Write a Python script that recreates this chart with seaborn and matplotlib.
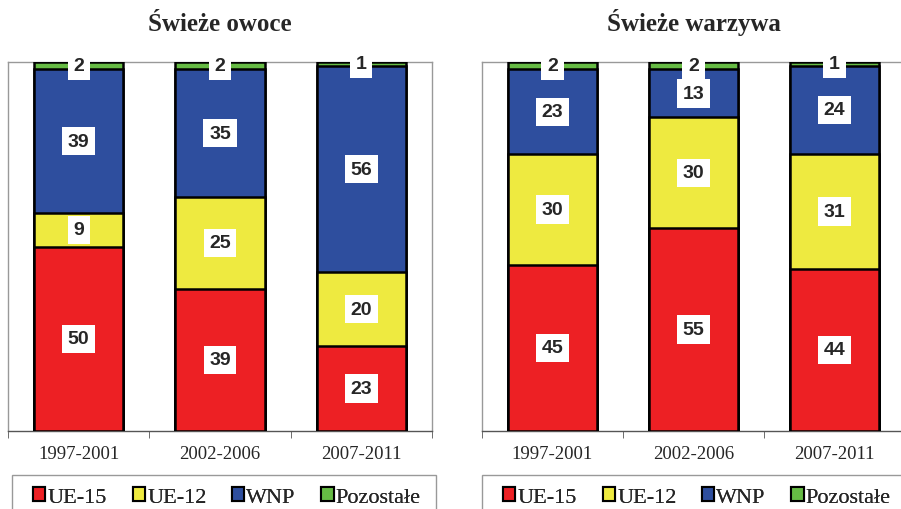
import matplotlib
matplotlib.use("Agg")
import matplotlib.pyplot as plt
import seaborn as sns
import numpy as np
import pandas as pd

periods = ["1997-2001", "2002-2006", "2007-2011"]
groups = ["UE-15", "UE-12", "WNP", "Pozostałe"]
colors = ["#ED2024", "#EEEA40", "#2E4E9E", "#66BB44"]

# shares (%) per period, bottom to top
owoce = {
    "UE-15": [50, 39, 23],
    "UE-12": [9, 25, 20],
    "WNP": [39, 35, 56],
    "Pozostałe": [2, 2, 1],
}
warzywa = {
    "UE-15": [45, 55, 44],
    "UE-12": [30, 30, 31],
    "WNP": [23, 13, 24],
    "Pozostałe": [2, 2, 1],
}

sns.set_style("white")
plt.rcParams["font.family"] = ["Liberation Serif", "DejaVu Serif"]

fig = plt.figure(figsize=(9.01, 5.10), dpi=100)
W, H = 901, 510


def draw_panel(ax, data, title):
    vals = np.array([data[g] for g in groups], dtype=float)
    # 100% stacked columns (rounded shares may not add up to exactly 100)
    cum = np.cumsum(vals, axis=0)
    cum = cum / cum[-1] * 100
    starts = np.vstack([np.zeros(len(periods)), cum[:-1]])
    # draw cumulative totals from the top segment down so edges stack up
    for i in range(len(groups) - 1, -1, -1):
        df = pd.DataFrame({"okres": periods, "val": cum[i]})
        sns.barplot(data=df, x="okres", y="val", color=colors[i], ax=ax,
                    width=0.63, edgecolor="black", linewidth=1.8,
                    saturation=1, zorder=2 + (len(groups) - i))
    for i in range(len(groups)):
        for j in range(len(periods)):
            mid = (starts[i, j] + cum[i, j]) / 2
            ax.text(j, mid, f"{int(vals[i, j])}", ha="center", va="center",
                    fontsize=14, fontweight="bold",
                    family=["Liberation Sans", "DejaVu Sans"], zorder=20,
                    bbox=dict(facecolor="white", edgecolor="none", pad=4))
    ax.set_xlim(-0.5, 2.5)
    ax.set_ylim(0, 100)
    ax.set_yticks([])
    ax.set_xlabel("")
    ax.set_ylabel("")
    ax.set_title(title, fontsize=18, fontweight="bold", pad=23)
    for s in ["left", "top", "right"]:
        ax.spines[s].set_color("#999999")
        ax.spines[s].set_linewidth(1)
    ax.spines["bottom"].set_color("#555555")
    ax.spines["bottom"].set_linewidth(1)
    ax.set_xticks([0, 1, 2])
    ax.set_xticklabels(periods, fontsize=13.5)
    ax.tick_params(axis="x", which="major", length=0, pad=10)
    ax.set_xticks([-0.5, 0.5, 1.5, 2.5], minor=True)
    ax.tick_params(axis="x", which="minor", length=5, color="#555555",
                   direction="out", bottom=True)


ax1 = fig.add_axes([8 / W, (H - 432) / H, 424 / W, 369 / H])
ax2 = fig.add_axes([482 / W, (H - 432) / H, 423 / W, 369 / H])
draw_panel(ax1, owoce, "Świeże owoce")
draw_panel(ax2, warzywa, "Świeże warzywa")

handles = [plt.Rectangle((0, 0), 1, 1, facecolor=c, edgecolor="black",
                         linewidth=1.5) for c in colors]
for x0, x1 in [(12, 436), (482, 915)]:
    frame = plt.Rectangle((x0 / W, -0.05), (x1 - x0) / W, 0.05 + (H - 476) / H,
                          transform=fig.transFigure, facecolor="white",
                          edgecolor="#999999", linewidth=1)
    fig.add_artist(frame)
    leg = fig.legend(handles, groups, loc="center", ncol=4,
                     bbox_to_anchor=((x0 + 215) / W, (H - 498) / H),
                     fontsize=16, frameon=False,
                     handlelength=0.55, handleheight=0.55, handletextpad=0.1,
                     columnspacing=1.15, borderpad=0, borderaxespad=0)
    fig.add_artist(leg)

fig.savefig("out.png", dpi=100)
